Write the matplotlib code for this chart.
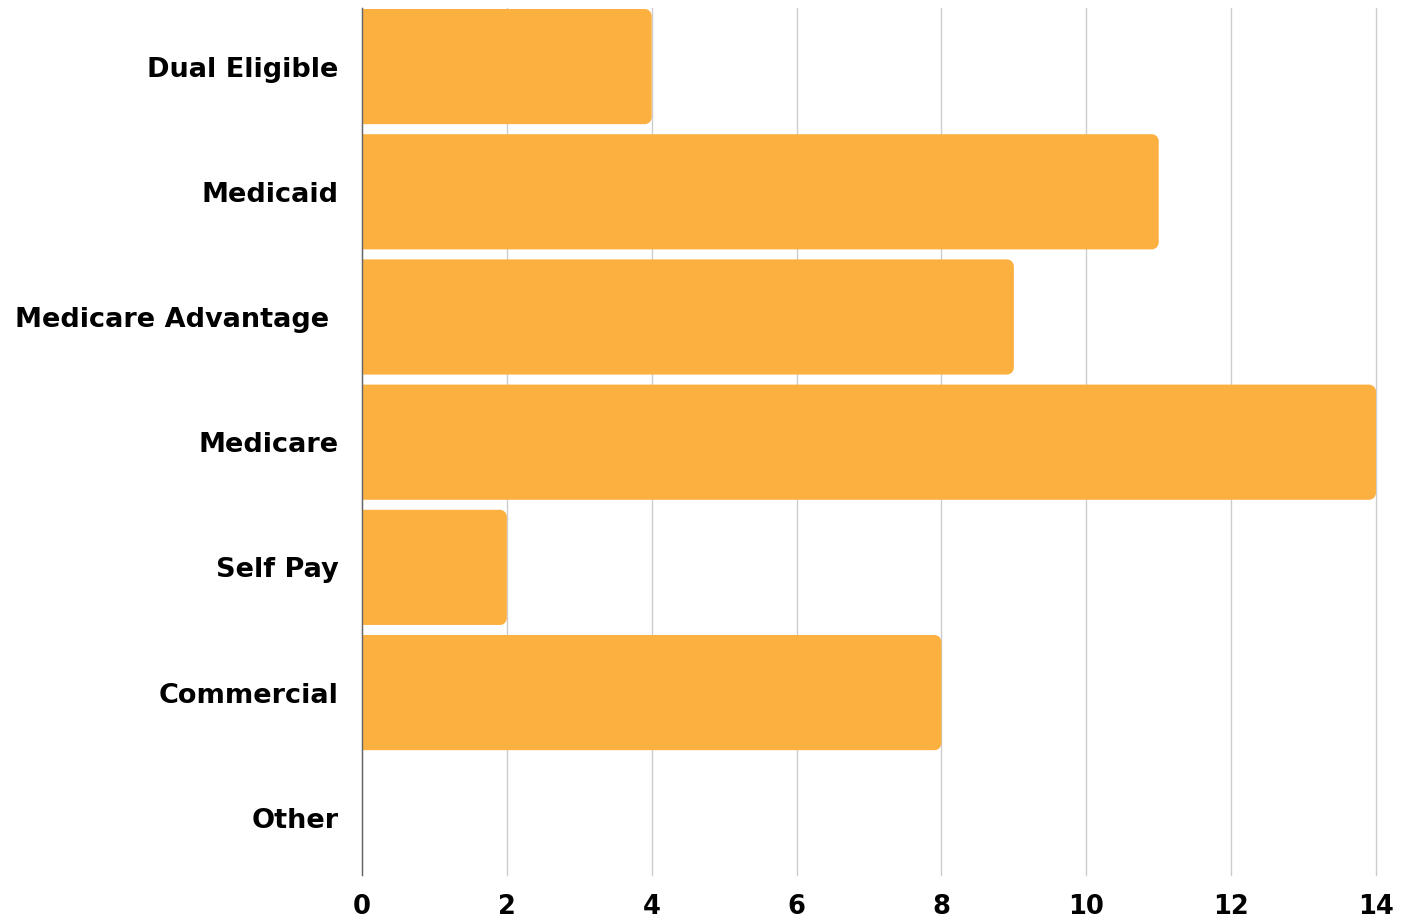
import matplotlib
matplotlib.use("Agg")
import matplotlib.pyplot as plt
from matplotlib.patches import PathPatch
from matplotlib.path import Path

# Chart data
categories = ["Dual Eligible", "Medicaid", "Medicare Advantage ", "Medicare",
              "Self Pay", "Commercial", "Other"]
values = [4, 11, 9, 14, 2, 8, 0]
x_ticks = [0, 2, 4, 6, 8, 10, 12, 14]

bar_color = "#FBB040"
plt.rcParams["font.family"] = ["DejaVu Sans"]

fig = plt.figure(figsize=(14.05, 9.18), dpi=100)
top_px, bottom_px = 8, 875
ax = fig.add_axes([362 / 1405, 1 - bottom_px / 918,
                   (1376 - 362) / 1405, (bottom_px - top_px) / 918])

ypos = list(range(len(categories)))
bar_h = 0.92
ax.set_xlim(0, 14)
ax.set_ylim(6.457, -0.468)
bars = ax.barh(ypos, values, height=bar_h, color=bar_color, zorder=2)

# replace each bar with a shape that has a square left edge and rounded right corners
fig.canvas.draw()
px_x = ax.transData.transform((1, 0))[0] - ax.transData.transform((0, 0))[0]
px_y = abs(ax.transData.transform((0, 1))[1] - ax.transData.transform((0, 0))[1])
rx, ry = 7 / px_x, 7 / px_y
k = 0.5523
for b in bars:
    x0, y0 = b.get_x(), b.get_y()
    w, h = b.get_width(), b.get_height()
    b.set_visible(False)
    if w <= 0:
        continue
    x1, y1 = x0 + w, y0 + h
    verts = [(x0, y0), (x1 - rx, y0),
             (x1 - rx + k * rx, y0), (x1, y0 + ry - k * ry), (x1, y0 + ry),
             (x1, y1 - ry),
             (x1, y1 - ry + k * ry), (x1 - rx + k * rx, y1), (x1 - rx, y1),
             (x0, y1), (x0, y0)]
    codes = [Path.MOVETO, Path.LINETO,
             Path.CURVE4, Path.CURVE4, Path.CURVE4,
             Path.LINETO,
             Path.CURVE4, Path.CURVE4, Path.CURVE4,
             Path.LINETO, Path.CLOSEPOLY]
    ax.add_patch(PathPatch(Path(verts, codes), facecolor=bar_color,
                           edgecolor="none", zorder=2, clip_on=False))

ax.set_yticks(ypos)
ax.set_yticklabels(categories, fontsize=19.5, fontweight="bold")
ax.set_xticks(x_ticks)
ax.set_xticklabels([str(t) for t in x_ticks], fontsize=18.5, fontweight="bold")
ax.tick_params(axis="y", length=0, pad=17)
ax.tick_params(axis="x", length=0, pad=14)
for lbl in ax.get_yticklabels():
    lbl.set_y(lbl.get_position()[1])

ax.grid(axis="x", color="#cccccc", linewidth=1, zorder=1)
ax.set_axisbelow(True)
for gl in ax.xaxis.get_gridlines():
    gl.set_clip_on(False)
for s in ["top", "right", "bottom"]:
    ax.spines[s].set_visible(False)
ax.spines["left"].set_color("#666666")
ax.spines["left"].set_linewidth(1)
ax.spines["left"].set_zorder(3)

fig.savefig("out.png", dpi=100)
